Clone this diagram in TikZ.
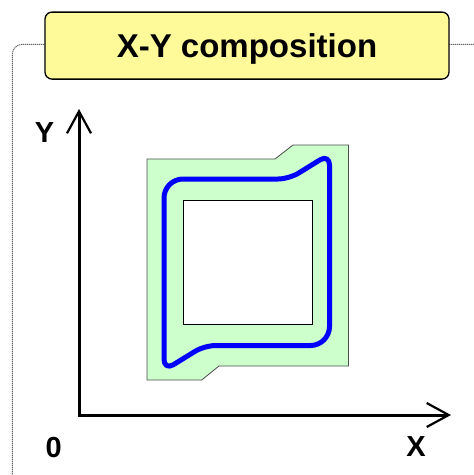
\documentclass[tikz,border=0pt]{standalone}
\usepackage{fontspec}
\setmainfont{Liberation Sans}
\usetikzlibrary{arrows.meta}
\begin{document}
\begin{tikzpicture}[x=1pt,y=-1pt,
  frameline/.style={draw=gray!75!black, line width=1pt, dash pattern=on 1.2pt off 0.8pt},
  titlebox/.style={draw=black, line width=1.3pt, fill=yellow!40, rounded corners=7pt, minimum width=404pt, minimum height=67pt, inner sep=0pt, text depth=0pt, font=\fontsize{33}{36}\selectfont\bfseries},
  axislabel/.style={anchor=base, inner sep=0pt, font=\fontsize{29}{32}\selectfont\bfseries},
  axis/.style={line width=3pt, {Straight Barb[length=22pt,width=24pt,line width=2.2pt]}-{Straight Barb[length=22pt,width=24pt,line width=2.2pt]}},
  part/.style={draw=black!70, line width=0.8pt, fill=green!20},
  hole/.style={draw=black, line width=1pt, fill=white},
  toolpath/.style={draw=blue, line width=5pt, line join=round}
]
\useasboundingbox (0,0) rectangle (474,475);
% dotted frame
\draw[frameline, rounded corners=10pt] (12.3,476) -- (12.3,44.3) -- (474,44.3);
% title
\node[titlebox] (title) at (247,45.6) {X-Y composition};
% axes
\coordinate (O) at (79,415);
\coordinate (ytip) at (79,109);
\coordinate (xtip) at (451,415);
\draw[axis] (ytip) -- (O) -- (xtip);
\node[axislabel] (ylab) at (44.5,142.7) {Y};
\node[axislabel] (zero) at (53.7,457) {0};
\node[axislabel] (xlab) at (416,456) {X};
% part
\draw[part] (147,159) -- (275,159) -- (293,145) -- (348.5,145) -- (348.5,366) -- (219,366) -- (201.7,380) -- (147,380) -- cycle;
\draw[hole] (183,200) rectangle (312,324);
% tool path
\draw[toolpath] (164,262) -- (164,198)
  .. controls (164,187.55) and (172.55,179) .. (183,179)
  -- (278,179)
  .. controls (284.05,179) and (293.21,176.40) .. (298.36,173.22)
  -- (320.14,159.78)
  .. controls (325.29,156.60) and (329.5,158.95) .. (329.5,165)
  -- (329.5,326.5)
  .. controls (329.5,336.95) and (320.95,345.5) .. (310.5,345.5)
  -- (215.5,345.5)
  .. controls (209.45,345.5) and (200.29,348.10) .. (195.14,351.28)
  -- (173.36,364.72)
  .. controls (168.21,367.90) and (164,365.55) .. (164,359.5)
  -- cycle;
\end{tikzpicture}
\end{document}
